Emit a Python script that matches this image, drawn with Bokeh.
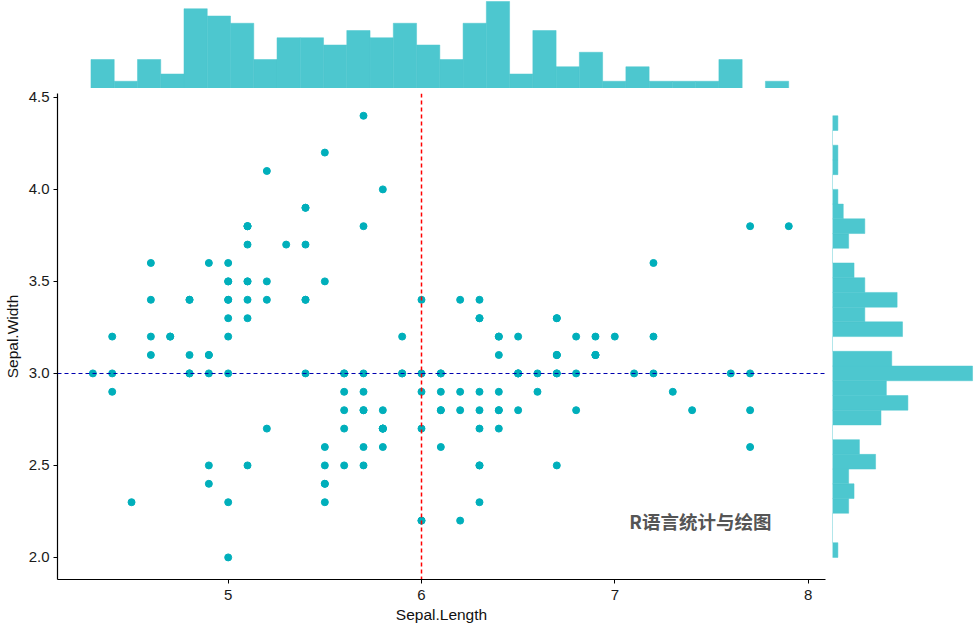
from bokeh.plotting import figure
from bokeh.layouts import column, row
from bokeh.models import Range1d, Spacer, Label, FixedTicker
from bokeh.embed import file_html
from bokeh.resources import INLINE

# iris data
sepal_length = [5.1,4.9,4.7,4.6,5.0,5.4,4.6,5.0,4.4,4.9,5.4,4.8,4.8,4.3,5.8,5.7,5.4,5.1,5.7,5.1,
    5.4,5.1,4.6,5.1,4.8,5.0,5.0,5.2,5.2,4.7,4.8,5.4,5.2,5.5,4.9,5.0,5.5,4.9,4.4,5.1,
    5.0,4.5,4.4,5.0,5.1,4.8,5.1,4.6,5.3,5.0,
    7.0,6.4,6.9,5.5,6.5,5.7,6.3,4.9,6.6,5.2,5.0,5.9,6.0,6.1,5.6,6.7,5.6,5.8,6.2,5.6,
    5.9,6.1,6.3,6.1,6.4,6.6,6.8,6.7,6.0,5.7,5.5,5.5,5.8,6.0,5.4,6.0,6.7,6.3,5.6,5.5,
    5.5,6.1,5.8,5.0,5.6,5.7,5.7,6.2,5.1,5.7,
    6.3,5.8,7.1,6.3,6.5,7.6,4.9,7.3,6.7,7.2,6.5,6.4,6.8,5.7,5.8,6.4,6.5,7.7,7.7,6.0,
    6.9,5.6,7.7,6.3,6.7,7.2,6.2,6.1,6.4,7.2,7.4,7.9,6.4,6.3,6.1,7.7,6.3,6.4,6.0,6.9,
    6.7,6.9,5.8,6.8,6.7,6.7,6.3,6.5,6.2,5.9]
sepal_width = [3.5,3.0,3.2,3.1,3.6,3.9,3.4,3.4,2.9,3.1,3.7,3.4,3.0,3.0,4.0,4.4,3.9,3.5,3.8,3.8,
    3.4,3.7,3.6,3.3,3.4,3.0,3.4,3.5,3.4,3.2,3.1,3.4,4.1,4.2,3.1,3.2,3.5,3.6,3.0,3.4,
    3.5,2.3,3.2,3.5,3.8,3.0,3.8,3.2,3.7,3.3,
    3.2,3.2,3.1,2.3,2.8,2.8,3.3,2.4,2.9,2.7,2.0,3.0,2.2,2.9,2.9,3.1,3.0,2.7,2.2,2.5,
    3.2,2.8,2.5,2.8,2.9,3.0,2.8,3.0,2.9,2.6,2.4,2.4,2.7,2.7,3.0,3.4,3.1,2.3,3.0,2.5,
    2.6,3.0,2.6,2.3,2.7,3.0,2.9,2.9,2.5,2.8,
    3.3,2.7,3.0,2.9,3.0,3.0,2.5,2.9,2.5,3.6,3.2,2.7,3.0,2.5,2.8,3.2,3.0,3.8,2.6,2.2,
    3.2,2.8,2.8,2.7,3.3,3.2,2.8,3.0,2.8,3.0,2.8,3.8,2.8,2.8,2.6,3.0,3.4,3.1,3.0,3.1,
    3.1,3.1,2.7,3.2,3.3,3.0,2.5,3.0,3.4,3.0]

# marginal histogram of Sepal.Length: 30 bins from 4.3 to 7.9 (counts)
len_bin_start = 4.3
len_bin_width = 0.12
len_counts = [4,1,4,2,11,10,9,4,7,7,6,8,7,9,6,4,9,12,2,8,3,5,1,3,1,1,1,4,0,1]

# marginal histogram of Sepal.Width: 30 bins from 2.0 to 4.4
wid_bin_start = 2.0
wid_bin_width = 0.08
wid_counts = [1,0,0,3,4,3,8,5,0,9,14,10,26,11,0,13,6,12,6,4,0,3,6,2,1,0,1,1,0,1]

x_ticks = [5, 6, 7, 8]
y_ticks = [2.0, 2.5, 3.0, 3.5, 4.0, 4.5]
y_tick_labels = {2.0: "2.0", 2.5: "2.5", 3.0: "3.0", 3.5: "3.5", 4.0: "4.0", 4.5: "4.5"}
vline_x = [6]
hline_y = [3]

FONT = "Liberation Sans"
PT_COL = "#00AFBB"
HIST_COL = "#4DC7CF"

xr = Range1d(4.117, 8.09)
yr = Range1d(1.88, 4.521)

# main scatter
main = figure(width=832, height=541, x_range=xr, y_range=yr, output_backend="svg",
              toolbar_location=None, min_border_left=55, min_border_right=7,
              min_border_top=5, min_border_bottom=50)
main.outline_line_color = None
main.grid.visible = False
main.background_fill_color = "white"
main.scatter(sepal_length, sepal_width, size=7, color=PT_COL, line_color=PT_COL)
main.vspan(x=vline_x, line_color="#FF0000", line_dash="4 3", line_width=1.5)
main.hspan(y=hline_y, line_color="#0000B0", line_dash="4 3", line_width=1.2)

for ax in (main.xaxis[0], main.yaxis[0]):
    ax.axis_line_color = "black"
    ax.axis_line_width = 1.2
    ax.major_tick_line_color = "black"
    ax.major_tick_in = 0
    ax.major_tick_out = 4
    ax.minor_tick_line_color = None
    ax.major_label_text_font = FONT
    ax.major_label_text_font_size = "15px"
    ax.major_label_text_color = "#1a1a1a"
    ax.axis_label_text_font = FONT
    ax.axis_label_text_font_size = "15.5px"
    ax.axis_label_text_font_style = "normal"
    ax.axis_label_text_color = "#111111"
main.xaxis.ticker = FixedTicker(ticks=x_ticks)
main.yaxis.ticker = FixedTicker(ticks=y_ticks)
main.yaxis.major_label_overrides = y_tick_labels
main.xaxis.axis_label = "Sepal.Length"
main.yaxis.axis_label = "Sepal.Width"
main.xaxis.major_label_standoff = 6
main.xaxis.axis_label_standoff = 3
main.yaxis.major_label_standoff = 4
main.yaxis.axis_label_standoff = 5

main.add_layout(Label(x=7.075, y=2.128, text="R语言统计与绘图", text_font="Noto Sans CJK SC",
                      text_font_size="18.5px", text_font_style="bold", text_color="#555555"))

# top histogram
top = figure(width=832, height=88, x_range=xr, y_range=Range1d(0, 12.14),
             output_backend="svg", toolbar_location=None,
             min_border_left=55, min_border_right=7, min_border_top=0, min_border_bottom=0,
             x_axis_location=None, y_axis_location=None)
top.outline_line_color = None
top.grid.visible = False
l_left = [len_bin_start + i * len_bin_width for i in range(len(len_counts))]
l_right = [v + len_bin_width for v in l_left]
top.quad(left=l_left, right=l_right, bottom=0, top=len_counts,
         fill_color=HIST_COL, line_color=HIST_COL, line_width=0.5)

# right histogram
right = figure(width=143, height=541, x_range=Range1d(0, 26.55), y_range=yr,
               output_backend="svg", toolbar_location=None,
               min_border_left=0, min_border_right=0, min_border_top=5, min_border_bottom=50,
               x_axis_location=None, y_axis_location=None)
right.outline_line_color = None
right.grid.visible = False
w_bottom = [wid_bin_start + i * wid_bin_width for i in range(len(wid_counts))]
w_top = [v + wid_bin_width for v in w_bottom]
right.quad(left=0, right=wid_counts, bottom=w_bottom, top=w_top,
           fill_color=HIST_COL, line_color=HIST_COL, line_width=0.5)

layout = column(row(top, Spacer(width=143, height=88)), row(main, right))

open("out.html", "w").write(file_html(layout, INLINE))
